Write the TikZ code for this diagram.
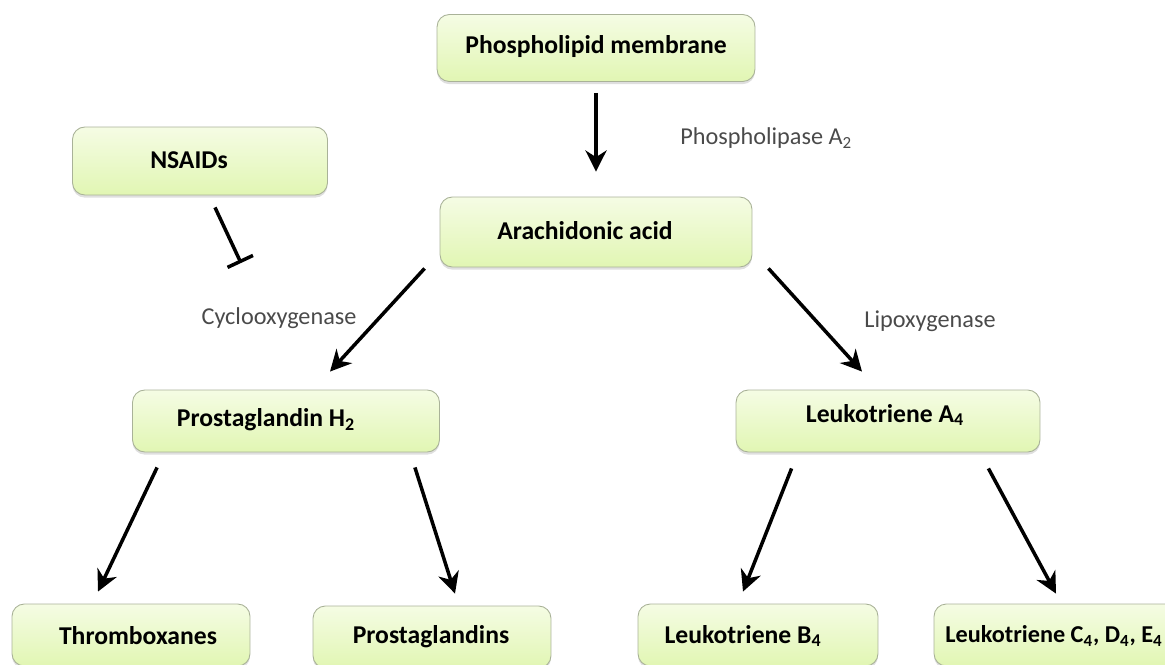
\documentclass[tikz,border=0pt]{standalone}
\usepackage{fontspec}
\setmainfont{Carlito}
\usetikzlibrary{arrows.meta}
\usetikzlibrary{shadows}
\definecolor{boxtop}{HTML}{F5FCE4}
\definecolor{boxbot}{HTML}{E1F6B3}
\definecolor{boxline}{HTML}{A9B298}
\definecolor{enzgray}{HTML}{4A4A4A}
\tikzset{
pbox/.style={rectangle, rounded corners=7pt, draw=boxline, line width=0.5pt,
    top color=boxtop, bottom color=boxbot,
    drop shadow={shadow xshift=0pt, shadow yshift=-1.5pt, opacity=0.25},
    inner sep=0pt},
btext/.style={font=\fontsize{14.6}{17}\selectfont\bfseries, text=black, inner sep=0pt},
enz/.style={font=\fontsize{13.8}{16}\selectfont, text=enzgray, inner sep=0pt},
flow/.style={line width=2pt, -{Stealth[length=12pt, width=12pt, inset=3.8pt]}},
block/.style={line width=2pt, -{Bar[width=16pt, line width=2pt]}}}

\begin{document}
\begin{tikzpicture}[x=0.02cm, y=-0.02cm]
    \useasboundingbox (0,0) rectangle (1165,664);
    \clip (0,0) rectangle (1165,664);

    \node[pbox, minimum width=6.36cm, minimum height=1.34cm] (pm) at (596,48) {};
    \node[pbox, minimum width=5.1cm, minimum height=1.36cm] (nsaid) at (200,161) {};
    \node[pbox, minimum width=6.24cm, minimum height=1.4cm] (aa) at (596,232) {};
    \node[pbox, minimum width=6.14cm, minimum height=1.24cm] (pgh) at (286,421) {};
    \node[pbox, minimum width=6.08cm, minimum height=1.24cm] (lta) at (888,421) {};
    \node[pbox, minimum width=4.76cm, minimum height=1.24cm] (tx) at (131,635) {};
    \node[pbox, minimum width=4.76cm, minimum height=1.24cm] (pg) at (432,637) {};
    \node[pbox, minimum width=4.8cm, minimum height=1.24cm] (ltb) at (758,635) {};
    \node[pbox, minimum width=4.92cm, minimum height=1.24cm] (ltc) at (1057,635) {};

    \node[btext] (pm-t) at (596,47) {Phospholipid membrane};
    \node[btext] (nsaid-t) at (189,160) {NSAIDs};
    \node[btext] (aa-t) at (585,231) {Arachidonic acid};
    \node[btext] (pgh-t) at (266,420) {Prostaglandin H\textsubscript{2}};
    \node[btext] (lta-t) at (885,415) {Leukotriene A\textsubscript{4}};
    \node[btext] (tx-t) at (138,636) {Thromboxanes};
    \node[btext] (pg-t) at (431,637) {Prostaglandins};
    \node[btext] (ltb-t) at (743,636) {Leukotriene B\textsubscript{4}};
    \node[btext, font=\fontsize{13.8}{16}\selectfont\bfseries, anchor=west] (ltc-t) at (945,636) {Leukotriene C\textsubscript{4}, D\textsubscript{4}, E\textsubscript{4}};

    \node[enz, anchor=west] (pla) at (680,138) {Phospholipase A\textsubscript{2}};
    \node[enz] (cox) at (279,318) {Cyclooxygenase};
    \node[enz] (lox) at (930,321) {Lipoxygenase};

    \coordinate (stop) at (241,263);

    \draw[flow] ([shift={(0,11)}]pm.south) -- ([shift={(0,-25)}]aa.north);
    \draw[block] ([shift={(15,12)}]nsaid.south) -- (stop);
    \draw[flow] ([shift={(-15,1)}]aa.south west) -- ([shift={(44,-18)}]pgh.north);
    \draw[flow] ([shift={(16,1)}]aa.south east) -- ([shift={(-26,-18)}]lta.north);
    \draw[flow] ([shift={(25,15)}]pgh.south west) -- ([shift={(-33,-12)}]tx.north);
    \draw[flow] ([shift={(-25,15)}]pgh.south east) -- ([shift={(23,-12)}]pg.north);
    \draw[flow] ([shift={(56,16)}]lta.south west) -- ([shift={(-15,-12)}]ltb.north);
    \draw[flow] ([shift={(-52,16)}]lta.south east) -- ([shift={(-1,-10)}]ltc.north);

\end{tikzpicture}
\end{document}
